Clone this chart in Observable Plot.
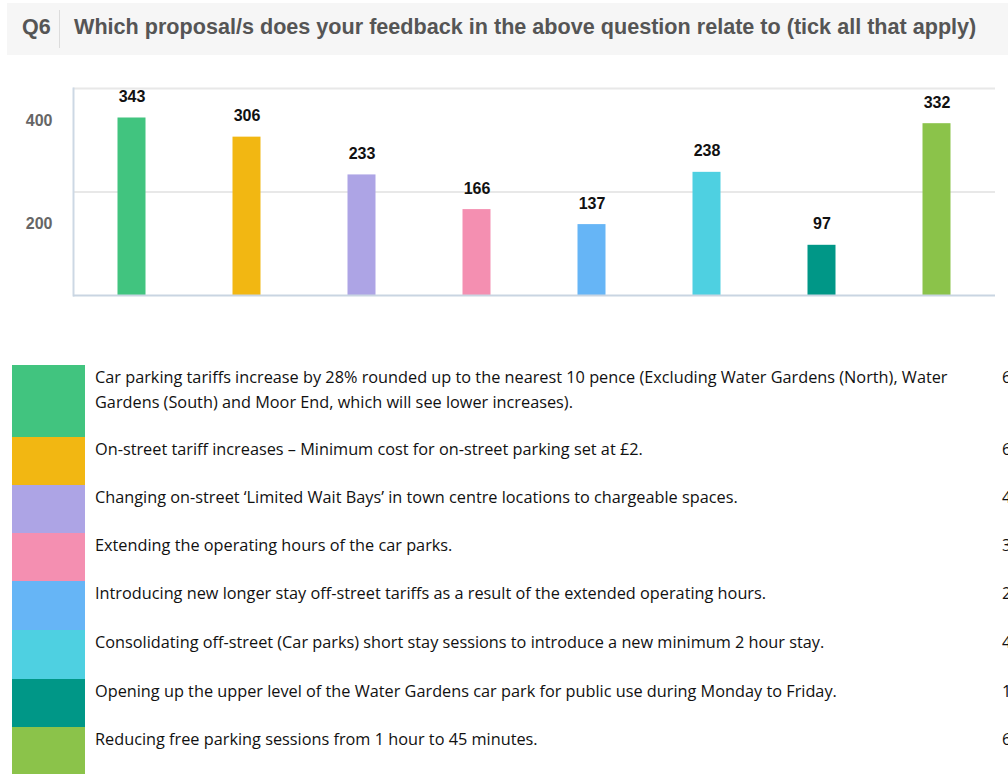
<!DOCTYPE html>
<html>
<head>
<meta charset="utf-8">
<script src="https://cdn.jsdelivr.net/npm/d3@7"></script>
<script src="https://cdn.jsdelivr.net/npm/@observablehq/plot@0.6"></script>
<style>
  html, body { margin: 0; padding: 0; background: #fff; }
  body { width: 1008px; height: 774px; overflow: hidden; position: relative; font-family: "Liberation Sans", Arial, sans-serif; }
  #titlebox { position: absolute; left: 7px; top: 3px; width: 1001px; height: 52px; background: #f6f6f6; }
  #qnum { position: absolute; left: 15px; top: -2px; line-height: 52px; font-size: 21.5px; font-weight: bold; color: #555; }
  #sep { position: absolute; left: 52px; top: 7px; width: 1px; height: 38px; background: #dcdcdc; }
  #qtext { position: absolute; left: 67px; top: -2px; line-height: 52px; font-size: 21.6px; font-weight: bold; color: #555; white-space: nowrap; }
  #chart { position: absolute; left: 0; top: 60px; }
  #legend { position: absolute; left: 12px; top: 365px; border-collapse: collapse; }
  #legend td { padding: 0; vertical-align: top; }
  #legend td.sw { width: 73px; }
  #legend td.tx { padding-left: 10px; font-family: "Open Sans", Lato, sans-serif; font-size: 16.3px; line-height: 25px; color: #111; white-space: nowrap; }
  #rightcol { position: absolute; left: 1002px; top: 365px; }
  #rightcol div { font-family: "Open Sans", sans-serif; font-size: 16.3px; line-height: 25px; color: #111; }
</style>
</head>
<body>
<div id="titlebox">
  <div id="qnum"></div>
  <div id="sep"></div>
  <div id="qtext"></div>
</div>
<div id="chart"></div>
<table id="legend"><tbody></tbody></table>
<div id="rightcol"></div>
<script>
// ---- data ----
const questionNumber = "Q6";
const questionText = "Which proposal/s does your feedback in the above question relate to (tick all that apply)";
const proposals = [
  "Car parking tariffs increase by 28% rounded up to the nearest 10 pence (Excluding Water Gardens (North), Water\nGardens (South) and Moor End, which will see lower increases).",
  "On-street tariff increases \u2013 Minimum cost for on-street parking set at \u00a32.",
  "Changing on-street \u2018Limited Wait Bays\u2019 in town centre locations to chargeable spaces.",
  "Extending the operating hours of the car parks.",
  "Introducing new longer stay off-street tariffs as a result of the extended operating hours.",
  "Consolidating off-street (Car parks) short stay sessions to introduce a new minimum 2 hour stay.",
  "Opening up the upper level of the Water Gardens car park for public use during Monday to Friday.",
  "Reducing free parking sessions from 1 hour to 45 minutes."
];
const counts = [343, 306, 233, 166, 137, 238, 97, 332];
const colors = ["#41c47f", "#f2b712", "#ada4e5", "#f48fb1", "#66b5f6", "#4ed0e1", "#009787", "#8bc34a"];
const yTicks = [200, 400];
// right-hand column of the legend table is cut off at the page edge: only its first glyphs are visible
const rightColumnLead = ["6", "6", "4", "3", "2", "4", "1", "6"];
const rowHeights = [72, 48, 48, 48, 49, 49, 48, 47];

// ---- title ----
document.getElementById("qnum").textContent = questionNumber;
document.getElementById("qtext").textContent = questionText;

// ---- chart ----
const data = proposals.map((p, i) => ({key: "P" + (i + 1), label: p, value: counts[i], color: colors[i]}));
const keys = data.map(d => d.key);

const chart = Plot.plot({
  width: 1008,
  height: 250,
  marginTop: 28,
  marginBottom: 15,
  marginLeft: 73,
  marginRight: 13,
  style: {fontFamily: "'Liberation Sans', Arial, sans-serif", background: "transparent"},
  x: {domain: keys, padding: 0, axis: null},
  y: {domain: [0, 400], axis: null},
  marks: [
    Plot.gridY(yTicks, {stroke: "#e8e8e8", strokeOpacity: 1, strokeWidth: 2}),
    Plot.axisY(yTicks, {tickSize: 0, tickPadding: 21, dy: 32, fontSize: 16, fontWeight: "bold", fill: "#666", label: null}),
    Plot.barY(data, {x: "key", y: "value", fill: "color", insetLeft: 43.5, insetRight: 43.5}),
    Plot.text(data, {x: "key", y: "value", text: d => String(d.value), dy: -21, fontSize: 16, fontWeight: "bold", fill: "#111", lineAnchor: "middle"}),
    Plot.frame({anchor: "left", stroke: "#cdd8e4", strokeWidth: 2}),
    Plot.ruleY([0], {stroke: "#c9d5e2", strokeWidth: 2})
  ]
});
document.getElementById("chart").appendChild(chart);

// ---- legend table ----
const tbody = document.querySelector("#legend tbody");
data.forEach((d, i) => {
  const tr = document.createElement("tr");
  tr.style.height = rowHeights[i] + "px";
  const sw = document.createElement("td");
  sw.className = "sw";
  sw.style.background = d.color;
  const tx = document.createElement("td");
  tx.className = "tx";
  d.label.split("\n").forEach((line, j) => {
    if (j) tx.appendChild(document.createElement("br"));
    tx.appendChild(document.createTextNode(line));
  });
  tr.appendChild(sw);
  tr.appendChild(tx);
  tbody.appendChild(tr);
});
const rc = document.getElementById("rightcol");
rightColumnLead.forEach((t, i) => {
  const div = document.createElement("div");
  div.style.height = rowHeights[i] + "px";
  div.textContent = t;
  rc.appendChild(div);
});
</script>
</body>
</html>
